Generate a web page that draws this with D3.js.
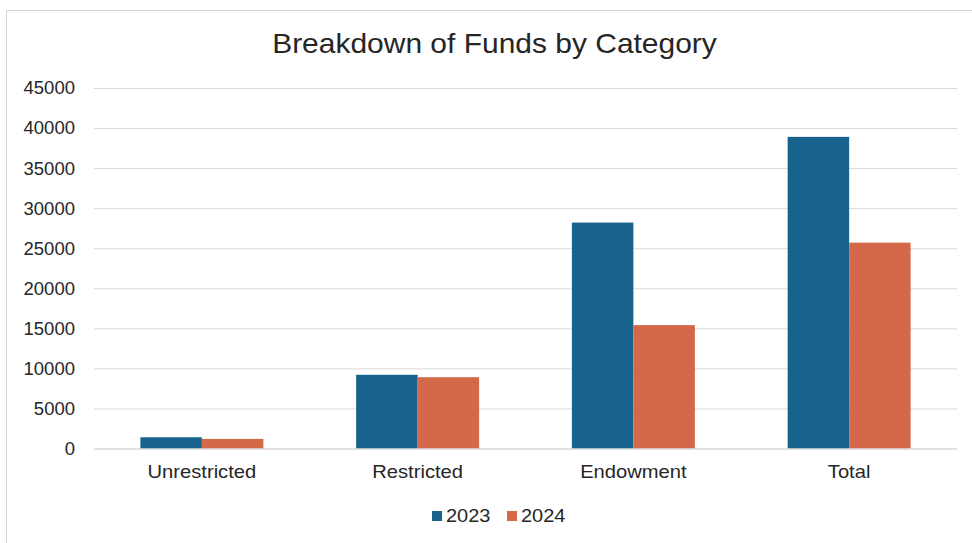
<!DOCTYPE html>
<html>
<head>
<meta charset="utf-8">
<script src="https://cdn.jsdelivr.net/npm/d3@7"></script>
<style>
  html, body { margin: 0; padding: 0; background: #ffffff; }
  svg { display: block; font-family: "Liberation Sans", Arial, sans-serif; }
</style>
</head>
<body>
<svg id="chart" width="972" height="543"></svg>
<script>
// Fund balances by category, two fiscal years
const categories = ["Unrestricted", "Restricted", "Endowment", "Total"];
const years = ["2023", "2024"];
const values2023 = [1400, 9200, 28200, 38900];
const values2024 = [1200, 8900, 15400, 25700];
const yTicks = [0, 5000, 10000, 15000, 20000, 25000, 30000, 35000, 40000, 45000];
const colors = ["#17638e", "#d4694a"];
const title = "Breakdown of Funds by Category";

const seriesValues = [values2023, values2024];
const svg = d3.select("#chart");
const W = 972, H = 543;
const plot = { left: 94, right: 957, top: 88, bottom: 448.5 };

// widen a text element horizontally around its anchor point
function stretch(sel, k) {
  sel.each(function () {
    const t = d3.select(this);
    const ax = +(t.attr("x") || 0);
    t.attr("transform", `translate(${ax * (1 - k)},0) scale(${k},1)`);
  });
}

// outer frame of the chart area
svg.append("path")
  .attr("d", `M6.5,${H} V10.5 H${W}`)
  .attr("fill", "none")
  .attr("stroke", "#d4d4d4")
  .attr("stroke-width", 1);

const x = d3.scaleBand()
  .domain(categories)
  .range([plot.left, plot.right])
  .paddingInner(0.43)
  .paddingOuter(0.215);

const xs = d3.scaleBand()
  .domain(years)
  .range([0, x.bandwidth()]);

const y = d3.scaleLinear()
  .domain([0, 45000])
  .range([plot.bottom, plot.top]);

// horizontal gridlines and tick labels
const yAxis = d3.axisLeft(y)
  .tickValues(yTicks)
  .tickSize(-(plot.right - plot.left))
  .tickPadding(19)
  .tickFormat(d3.format("d"));

const gy = svg.append("g")
  .attr("transform", `translate(${plot.left},0)`)
  .call(yAxis);
gy.select(".domain").remove();
gy.selectAll(".tick line")
  .attr("stroke", "#d9d9d9")
  .attr("stroke-width", 1);
gy.selectAll(".tick text")
  .attr("fill", "#262626")
  .attr("font-size", 18.5)
  .attr("font-family", "Liberation Sans, Arial, sans-serif");

// bars
const groups = svg.append("g").selectAll("g")
  .data(categories)
  .join("g")
  .attr("transform", d => `translate(${x(d)},0)`);

groups.selectAll("rect")
  .data((d, i) => years.map((yr, k) => ({ yr, k, v: seriesValues[k][i] })))
  .join("rect")
  .attr("x", d => xs(d.yr))
  .attr("y", d => y(d.v))
  .attr("width", xs.bandwidth())
  .attr("height", d => y(0) - y(d.v))
  .attr("fill", d => colors[d.k]);

// category axis
const xAxis = d3.axisBottom(x).tickSize(0).tickPadding(17);
const gx = svg.append("g")
  .attr("transform", `translate(0,${plot.bottom})`)
  .call(xAxis);
gx.select(".domain")
  .attr("stroke", "#d9d9d9")
  .attr("d", `M${plot.left},0.5H${plot.right}`);
gx.selectAll(".tick text")
  .attr("fill", "#262626")
  .attr("font-size", 18)
  .attr("font-family", "Liberation Sans, Arial, sans-serif")
  .call(stretch, 1.12);

// title
svg.append("text")
  .attr("x", 494.5)
  .attr("y", 53)
  .attr("text-anchor", "middle")
  .attr("font-size", 27)
  .attr("fill", "#262626")
  .text(title)
  .call(stretch, 1.11);

// legend
const legend = svg.append("g").attr("transform", "translate(432,516)");
const items = legend.selectAll("g")
  .data(years)
  .join("g")
  .attr("transform", (d, i) => `translate(${i * 75},0)`);
items.append("rect")
  .attr("x", 0).attr("y", -5)
  .attr("width", 10).attr("height", 10)
  .attr("fill", (d, i) => colors[i]);
items.append("text")
  .attr("x", 14)
  .attr("y", 0)
  .attr("dy", "0.35em")
  .attr("font-size", 18.5)
  .attr("fill", "#262626")
  .text(d => d)
  .call(stretch, 1.08);
</script>
</body>
</html>
